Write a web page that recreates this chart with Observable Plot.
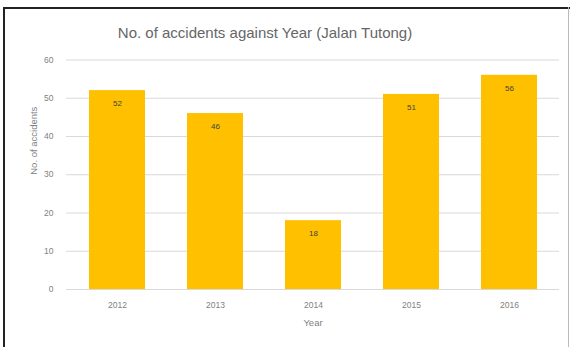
<!DOCTYPE html>
<html>
<head>
<meta charset="utf-8">
<script src="https://cdn.jsdelivr.net/npm/d3@7"></script>
<script src="https://cdn.jsdelivr.net/npm/@observablehq/plot@0.6"></script>
<style>
  html, body { margin: 0; padding: 0; background: #fff; }
  body { width: 570px; height: 347px; position: relative; overflow: hidden; font-family: "Liberation Sans", "DejaVu Sans", sans-serif; }
  #frame { position: absolute; left: 3px; top: 7px; width: 570px; height: 350px; border-left: 2px solid #222; border-top: 2px solid #222; box-sizing: border-box; }
  #frameR { position: absolute; left: 568px; top: 7px; width: 1px; height: 350px; background: #bbb; }
  #title { position: absolute; left: 0; top: 23px; width: 530px; text-align: center; font-size: 15px; line-height: 20px; color: #666; }
  #chart { position: absolute; left: 0; top: 46px; }
</style>
</head>
<body>
<div id="frame"></div>
<div id="frameR"></div>
<div id="title">No. of accidents against Year (Jalan Tutong)</div>
<div id="chart"></div>
<script>
const years = ["2012", "2013", "2014", "2015", "2016"];
const accidents = [52, 46, 18, 51, 56];
const yTicks = [0, 10, 20, 30, 40, 50, 60];

const data = years.map((y, i) => ({year: y, count: accidents[i]}));

const chart = Plot.plot({
  width: 570,
  height: 301,
  marginTop: 13.5,
  marginBottom: 58,
  marginLeft: 66,
  marginRight: 11,
  style: {fontFamily: "Liberation Sans, DejaVu Sans, sans-serif", color: "#7f7f7f", background: "transparent"},
  x: {domain: years, paddingInner: 0.43, paddingOuter: 0.215, label: null},
  y: {domain: [0, 60], label: null},
  marks: [
    Plot.gridY(yTicks, {stroke: "#d9d9d9", strokeOpacity: 1}),
    Plot.barY(data, {x: "year", y: "count", fill: "#FFC000"}),
    Plot.ruleY([0], {stroke: "#d9d9d9"}),
    Plot.text(data, {x: "year", y: "count", text: d => String(d.count), dy: 13, fontSize: 8, fill: "#404040"}),
    Plot.axisY(yTicks, {tickSize: 0, tickPadding: 13, fontSize: 8.5, color: "#7f7f7f", label: null}),
    Plot.axisX({tickSize: 0, tickPadding: 12, fontSize: 8.5, color: "#7f7f7f", label: null}),
    Plot.text(["No. of accidents"], {frameAnchor: "left", dx: -33, rotate: -90, fontSize: 9.5, fill: "#7f7f7f"}),
    Plot.text(["Year"], {frameAnchor: "bottom", dy: 36, fontSize: 9.5, fill: "#7f7f7f"})
  ]
});
document.getElementById("chart").appendChild(chart);
</script>
</body>
</html>
